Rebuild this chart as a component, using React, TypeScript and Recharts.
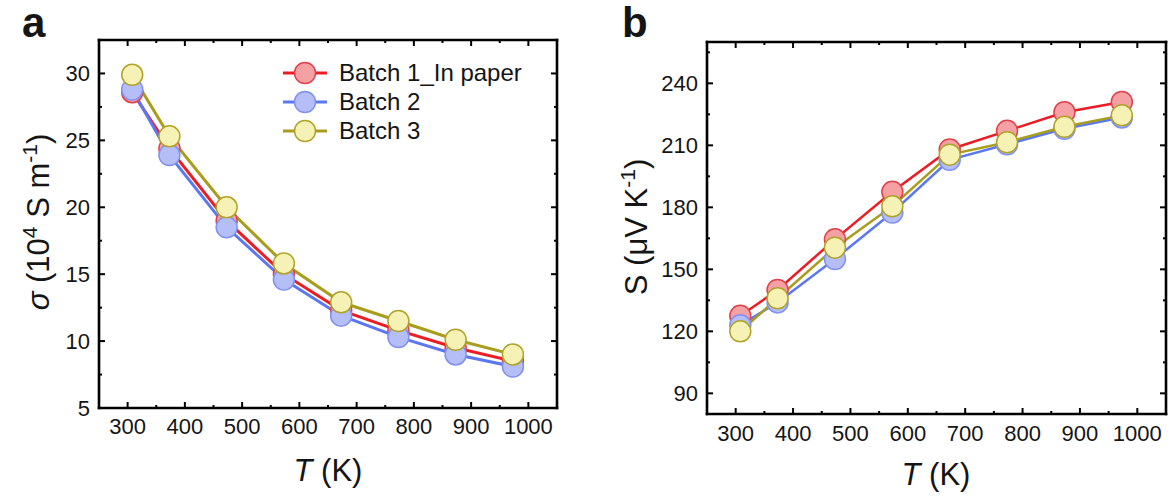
import React from "react";
import { LineChart, Line, XAxis, YAxis, Legend } from "recharts";

// temperatures (K)
const temps = [308, 373, 473, 573, 673, 773, 873, 973];

// electrical conductivity, 10^4 S/m
const sigmaBatch1 = [28.6, 24.4, 19.0, 15.0, 12.3, 10.8, 9.5, 8.5];
const sigmaBatch2 = [28.8, 23.9, 18.5, 14.6, 11.9, 10.3, 9.0, 8.1];
const sigmaBatch3 = [29.9, 25.3, 20.0, 15.8, 12.9, 11.5, 10.1, 9.0];

// Seebeck coefficient, uV/K
const seebeckBatch1 = [127.5, 140, 164.5, 187.5, 208, 217, 226, 231];
const seebeckBatch2 = [123, 134, 155, 177.5, 203, 210.5, 218, 223.5];
const seebeckBatch3 = [120, 136, 160.5, 180.5, 205.5, 211.5, 219, 224.5];

const seriesNames = ["Batch 1_In paper", "Batch 2", "Batch 3"];

const xTicks = [300, 350, 400, 450, 500, 550, 600, 650, 700, 750, 800, 850, 900, 950, 1000];
const sigmaTicks = [5, 7.5, 10, 12.5, 15, 17.5, 20, 22.5, 25, 27.5, 30];
const seebeckTicks = [90, 105, 120, 135, 150, 165, 180, 195, 210, 225, 240, 255];

const FONT = '"Liberation Sans", Arial, sans-serif';
const INK = "#151515";

const colors = [
  { line: "#ec1c24", fill: "#f5a1a4", edge: "#e0414a" },
  { line: "#5b77f2", fill: "#b5bef7", edge: "#8092f0" },
  { line: "#a89d1c", fill: "#f6f2b6", edge: "#b0a32c" },
];

const sigmaData = temps.map((t, i) => ({
  T: t,
  b1: sigmaBatch1[i],
  b2: sigmaBatch2[i],
  b3: sigmaBatch3[i],
}));

const seebeckData = temps.map((t, i) => ({
  T: t,
  b1: seebeckBatch1[i],
  b2: seebeckBatch2[i],
  b3: seebeckBatch3[i],
}));

const keys = ["b1", "b2", "b3"];

type Side = "bottom" | "top" | "left" | "right";

// inward ticks drawn by hand, labels only on majors
function makeTick(side: Side, isMajor: (v: number) => boolean, showLabel: boolean, labelGap = 26) {
  return (props: any) => {
    const { x, y, payload } = props;
    const v = payload.value;
    const major = isMajor(v);
    const len = major ? 6 : 3;
    let line;
    if (side === "bottom") line = <line x1={x} y1={y} x2={x} y2={y - len} />;
    else if (side === "top") line = <line x1={x} y1={y} x2={x} y2={y + len} />;
    else if (side === "left") line = <line x1={x} y1={y} x2={x + len} y2={y} />;
    else line = <line x1={x} y1={y} x2={x - len} y2={y} />;
    let label = null;
    if (showLabel && major) {
      if (side === "bottom")
        label = (
          <text x={x} y={y + labelGap} textAnchor="middle" fill={INK} stroke="none" fontSize={22} fontFamily={FONT}>
            {v}
          </text>
        );
      else if (side === "left")
        label = (
          <text x={x - 9} y={y + 8} textAnchor="end" fill={INK} stroke="none" fontSize={22} fontFamily={FONT}>
            {v}
          </text>
        );
    }
    return (
      <g stroke="#000" strokeWidth={2}>
        {line}
        {label}
      </g>
    );
  };
}

const axisLine = { stroke: "#000", strokeWidth: 2.6, strokeLinecap: "square" as const };

function LegendBox() {
  return (
    <div style={{ fontFamily: FONT, fontSize: 24, color: INK }}>
      {seriesNames.map((name, i) => (
        <div key={name} style={{ display: "flex", alignItems: "center", height: 29 }}>
          <svg width={50} height={26} style={{ display: "block" }}>
            <line x1={3} y1={13} x2={47} y2={13} stroke={colors[i].line} strokeWidth={3} />
            <circle cx={25} cy={13} r={10.5} fill={colors[i].fill} stroke={colors[i].edge} strokeWidth={1.5} />
          </svg>
          <span style={{ marginLeft: 9, whiteSpace: "nowrap", lineHeight: "29px" }}>{name}</span>
        </div>
      ))}
    </div>
  );
}

function Panel({
  data,
  yDomain,
  yTicks,
  yMajor,
  width,
  margin,
  lineWidth,
  legend,
  xLabelGap,
}: {
  data: any[];
  yDomain: [number, number];
  yTicks: number[];
  yMajor: (v: number) => boolean;
  width: number;
  margin: { top: number; left: number; right: number; bottom: number };
  lineWidth: number;
  legend?: boolean;
  xLabelGap: number;
}) {
  const xMajor = (v: number) => v % 100 === 0;
  // each axis takes 1px, so the margins are 1px short of the plot edges
  const m = { top: margin.top - 1, left: margin.left - 1, right: margin.right - 1, bottom: margin.bottom - 1 };
  return (
    <LineChart width={width} height={498} data={data} margin={m}>
      <XAxis
        xAxisId="bottom"
        dataKey="T"
        type="number"
        domain={[250, 1050]}
        ticks={xTicks}
        interval={0}
        height={1}
        tickSize={0}
        tickMargin={0}
        tickLine={false}
        axisLine={axisLine}
        tick={makeTick("bottom", xMajor, true, xLabelGap)}
      />
      <XAxis
        xAxisId="top"
        orientation="top"
        dataKey="T"
        type="number"
        domain={[250, 1050]}
        ticks={xTicks}
        interval={0}
        height={1}
        tickSize={0}
        tickMargin={0}
        tickLine={false}
        axisLine={axisLine}
        tick={makeTick("top", xMajor, false)}
      />
      <YAxis
        yAxisId="left"
        type="number"
        domain={yDomain}
        ticks={yTicks}
        interval={0}
        width={1}
        tickSize={0}
        tickMargin={0}
        tickLine={false}
        axisLine={axisLine}
        allowDataOverflow
        tick={makeTick("left", yMajor, true)}
      />
      <YAxis
        yAxisId="right"
        orientation="right"
        type="number"
        domain={yDomain}
        ticks={yTicks}
        interval={0}
        width={1}
        tickSize={0}
        tickMargin={0}
        tickLine={false}
        axisLine={axisLine}
        allowDataOverflow
        tick={makeTick("right", yMajor, false)}
      />
      {keys.map((k, i) => (
        <Line
          key={k}
          xAxisId="bottom"
          yAxisId="left"
          type="linear"
          dataKey={k}
          name={seriesNames[i]}
          stroke={colors[i].line}
          strokeWidth={lineWidth}
          dot={{ r: 10.5, fill: colors[i].fill, stroke: colors[i].edge, strokeWidth: 1.5, fillOpacity: 1 }}
          activeDot={false}
          isAnimationActive={false}
        />
      ))}
      {legend && (
        <Legend
          layout="vertical"
          align="center"
          verticalAlign="middle"
          wrapperStyle={{ left: 280, top: 58, width: 280 }}
          content={() => <LegendBox />}
        />
      )}
    </LineChart>
  );
}

export default function App() {
  return (
    <div style={{ position: "absolute", left: 0, top: 0, width: 1175, height: 498, background: "#fff", fontFamily: FONT }}>
      <div style={{ position: "absolute", left: 0, top: 0 }}>
        <Panel
          data={sigmaData}
          yDomain={[5, 32.5]}
          yTicks={sigmaTicks}
          yMajor={(v) => v % 5 === 0}
          width={590}
          margin={{ top: 40, left: 99, right: 33, bottom: 90 }}
          lineWidth={3}
          legend
          xLabelGap={26}
        />
      </div>
      <div style={{ position: "absolute", left: 590, top: 0 }}>
        <Panel
          data={seebeckData}
          yDomain={[80, 260]}
          yTicks={seebeckTicks}
          yMajor={(v) => v % 30 === 0}
          width={585}
          margin={{ top: 42, left: 117, right: 9, bottom: 84 }}
          lineWidth={2.5}
          xLabelGap={27}
        />
      </div>
      <svg width={1175} height={498} style={{ position: "absolute", left: 0, top: 0, pointerEvents: "none" }}>
        <g fontFamily={FONT} fill={INK}>
          <text x={22} y={37} fontSize={42} fontWeight="bold">a</text>
          <text x={622} y={37} fontSize={42} fontWeight="bold">b</text>

          <text x={328} y={481} fontSize={31} textAnchor="middle">
            <tspan fontStyle="italic">T</tspan> (K)
          </text>
          <text x={936} y={485} fontSize={31} textAnchor="middle">
            <tspan fontStyle="italic">T</tspan> (K)
          </text>

          <text transform="translate(49,222) rotate(-90)" fontSize={31} textAnchor="middle">
            <tspan fontStyle="italic">σ</tspan> (10
            <tspan fontSize={21} dy={-12}>4</tspan>
            <tspan dy={12}> S m</tspan>
            <tspan fontSize={21} dy={-12}>-1</tspan>
            <tspan dy={12}>)</tspan>
          </text>
          <text transform="translate(647,227) rotate(-90)" fontSize={31} textAnchor="middle">
            S (μV K
            <tspan fontSize={21} dy={-12}>-1</tspan>
            <tspan dy={12}>)</tspan>
          </text>
        </g>
      </svg>
    </div>
  );
}
